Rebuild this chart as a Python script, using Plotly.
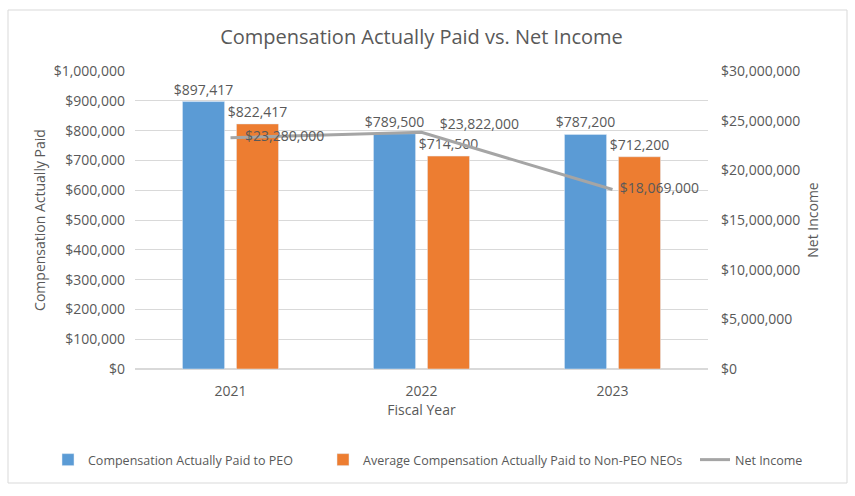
import plotly.graph_objects as go

years = ["2021", "2022", "2023"]
cap_peo = [897417, 789500, 787200]
cap_non_peo = [822417, 714500, 712200]
net_income = [23280000, 23822000, 18069000]
left_ticks = list(range(0, 1000001, 100000))
right_ticks = list(range(0, 30000001, 5000000))

FONT = "Open Sans"
GRAY = "#595959"
W, H = 855, 496


def money(v):
    return "${:,.0f}".format(v)


fig = go.Figure()
fig.add_trace(go.Bar(
    x=years, y=cap_peo, name="Compensation Actually Paid to PEO",
    marker_color="#5B9BD5", texttemplate="$%{y:,.0f}", textposition="outside",
    constraintext="none", legend="legend", showlegend=True,
    textfont=dict(size=14, color=GRAY, family=FONT), cliponaxis=False,
))
fig.add_trace(go.Bar(
    x=years, y=cap_non_peo, name="Average Compensation Actually Paid to Non-PEO NEOs",
    marker_color="#ED7D31", texttemplate="$%{y:,.0f}", textposition="outside",
    constraintext="none", legend="legend2", showlegend=True,
    textfont=dict(size=14, color=GRAY, family=FONT), cliponaxis=False,
))
fig.add_trace(go.Scatter(
    x=years, y=net_income, name="Net Income", yaxis="y2", mode="lines+text",
    line=dict(color="#A5A5A5", width=3), legend="legend3", showlegend=True,
    text=["    " + money(net_income[0]), "     " + money(net_income[1]), "  " + money(net_income[2])],
    textposition=["middle right", "top right", "middle right"],
    textfont=dict(size=14, color=GRAY, family=FONT), cliponaxis=False,
))


def leg(x_px):
    return dict(orientation="h", xref="container", yref="container",
                x=x_px / W, xanchor="left", y=(H - 460) / H, yanchor="middle",
                font=dict(size=12.5, color=GRAY, family=FONT), itemwidth=30,
                bgcolor="rgba(0,0,0,0)")


fig.update_layout(
    width=W, height=H, showlegend=True,
    margin=dict(l=135, r=147, t=71, b=127, autoexpand=False),
    paper_bgcolor="white", plot_bgcolor="white",
    font=dict(family=FONT, color=GRAY, size=14),
    title=dict(text="Compensation Actually Paid vs. Net Income", x=0.5, xref="paper",
               y=1 - 37 / H, yanchor="middle", font=dict(size=20, color=GRAY, family=FONT)),
    barmode="group", bargap=0.435, bargroupgap=0.22,
    hovermode=False,
    xaxis=dict(type="category", title=dict(text="Fiscal Year", font=dict(size=14), standoff=4),
               showline=False, ticks="", tickfont=dict(size=14), showgrid=False,
               automargin=False, ticklabelstandoff=12),
    yaxis=dict(range=[0, 1000000], tickvals=left_ticks, ticktext=[money(v) for v in left_ticks],
               showgrid=True, gridcolor="#D9D9D9", zeroline=True, zerolinecolor="#D9D9D9",
               title=dict(text="Compensation Actually Paid", font=dict(size=14), standoff=4),
               ticks="", tickfont=dict(size=14), automargin=False, ticklabelstandoff=9),
    yaxis2=dict(range=[0, 30000000], tickvals=right_ticks, ticktext=[money(v) for v in right_ticks],
                overlaying="y", side="right", showgrid=False, zeroline=False,
                title=dict(text="Net Income", font=dict(size=14), standoff=8),
                ticks="", tickfont=dict(size=14), automargin=False, ticklabelstandoff=12),
    legend=leg(48),
    legend2=leg(323),
    legend3=leg(695),
    shapes=[dict(type="rect", xref="paper", yref="paper",
                 x0=(8 - 135) / 573, x1=(847 - 135) / 573,
                 y0=(369 - 483) / 298, y1=(369 - 10) / 298,
                 line=dict(color="#D9D9D9", width=1), layer="below")],
)

fig.write_html("out.html", config={"displayModeBar": False},
               post_script="document.body.style.margin='0px';")
